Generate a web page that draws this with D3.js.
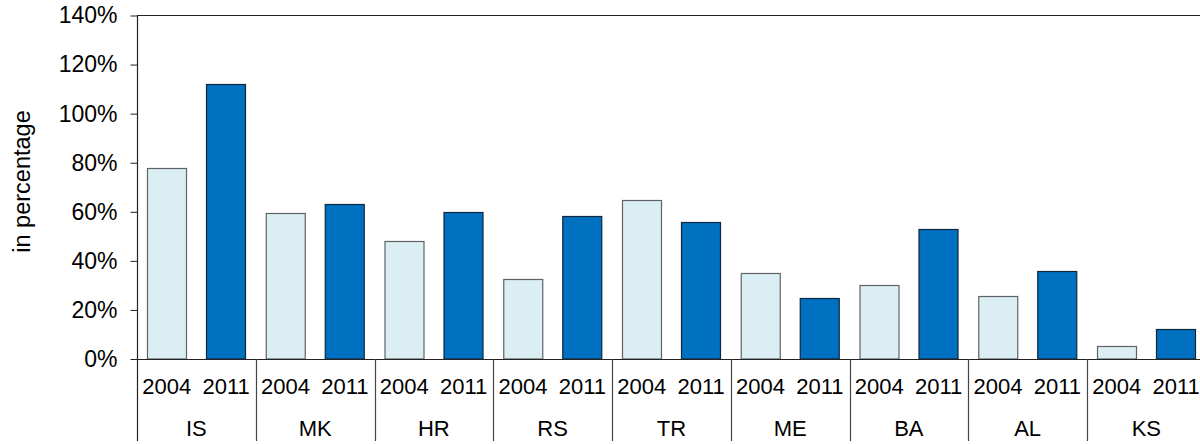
<!DOCTYPE html>
<html>
<head>
<meta charset="utf-8">
<script src="https://cdn.jsdelivr.net/npm/d3@7"></script>
<style>
  html, body { margin: 0; padding: 0; background: #fff; }
  svg { display: block; font-family: "Liberation Sans", Arial, sans-serif; }
</style>
</head>
<body>
<svg id="chart" width="1200" height="444"></svg>
<script>
// Country codes along the x axis
const countries = ["IS", "MK", "HR", "RS", "TR", "ME", "BA", "AL", "KS"];
// Survey years shown for each country
const years = ["2004", "2011"];
// Values in percent, one per country
const values2004 = [77.7, 59.4, 48.1, 32.6, 64.7, 35.2, 30.2, 25.7, 5.2];
const values2011 = [112.2, 63.3, 60.0, 58.3, 55.7, 24.9, 52.8, 36.0, 12.4];
// Y axis ticks (percent)
const yTicks = [0, 20, 40, 60, 80, 100, 120, 140];
const yTitle = "in percentage";

const svg = d3.select("#chart");

const plotLeft = 137, groupW = 118.75;
const plotTop = 15.5, base = 359, rowBottom = 441;
const plotRight = plotLeft + groupW * countries.length;

const y = d3.scaleLinear().domain([0, 140]).range([base, plotTop]);
const x0 = d3.scaleBand().domain(countries).range([plotLeft, plotRight]).padding(0);
const x1 = d3.scaleBand().domain(years).range([0, groupW])
  .paddingInner(20 / 59.375).paddingOuter(10 / 59.375);

const fills = { "2004": "#DBEEF4", "2011": "#0070C0" };
const strokes = { "2004": "#5f6366", "2011": "#10263d" };

// top border of the plot area
svg.append("line")
  .attr("x1", plotLeft).attr("x2", plotRight)
  .attr("y1", plotTop).attr("y2", plotTop)
  .attr("stroke", "#222").attr("stroke-width", 1.2);

// bars
const groups = svg.append("g").selectAll("g")
  .data(countries.map((c, i) => ({ c, vals: [
    { year: "2004", v: values2004[i] },
    { year: "2011", v: values2011[i] }
  ]})))
  .join("g")
  .attr("transform", d => `translate(${x0(d.c)},0)`);

groups.selectAll("rect")
  .data(d => d.vals)
  .join("rect")
  .attr("x", d => Math.round(x1(d.year)) + 0.5)
  .attr("width", Math.round(x1.bandwidth()))
  .attr("y", d => Math.round(y(d.v)) + 0.5)
  .attr("height", d => base - Math.round(y(d.v)) - 0.5)
  .attr("fill", d => fills[d.year])
  .attr("stroke", d => strokes[d.year])
  .attr("stroke-width", 1.2);

// y axis
const yAxis = d3.axisLeft(y)
  .tickValues(yTicks)
  .tickFormat(d => d + "%")
  .tickSize(7)
  .tickPadding(13);

const gy = svg.append("g")
  .attr("transform", `translate(${plotLeft + 0.5},0)`)
  .call(yAxis);
gy.select(".domain").remove();
gy.selectAll(".tick line").attr("stroke", "#222");
gy.selectAll(".tick text")
  .attr("font-size", 23)
  .attr("fill", "#000")
  .attr("font-family", "Liberation Sans, Arial, sans-serif");

// left axis line extends down through the category rows
svg.append("line")
  .attr("x1", plotLeft + 0.5).attr("x2", plotLeft + 0.5)
  .attr("y1", plotTop).attr("y2", rowBottom)
  .attr("stroke", "#222").attr("stroke-width", 1.2);

// baseline
svg.append("line")
  .attr("x1", plotLeft).attr("x2", plotRight)
  .attr("y1", base + 0.5).attr("y2", base + 0.5)
  .attr("stroke", "#222").attr("stroke-width", 1.2);

// category separators below the baseline
svg.append("g").selectAll("line")
  .data(countries.slice(1))
  .join("line")
  .attr("x1", d => Math.round(x0(d)) + 0.5)
  .attr("x2", d => Math.round(x0(d)) + 0.5)
  .attr("y1", base).attr("y2", rowBottom)
  .attr("stroke", "#444").attr("stroke-width", 1.2);

// year labels
groups.selectAll("text.year")
  .data(d => d.vals)
  .join("text")
  .attr("class", "year")
  .attr("x", d => x1(d.year) + x1.bandwidth() / 2)
  .attr("y", 394)
  .attr("text-anchor", "middle")
  .attr("font-size", 22)
  .attr("fill", "#000")
  .text(d => d.year);

// country labels
groups.append("text")
  .attr("x", groupW / 2)
  .attr("y", 436)
  .attr("text-anchor", "middle")
  .attr("font-size", 22)
  .attr("fill", "#000")
  .text(d => d.c);

// y axis title
svg.append("text")
  .attr("transform", `translate(30,181.5) rotate(-90)`)
  .attr("text-anchor", "middle")
  .attr("font-size", 23.5)
  .attr("fill", "#000")
  .text(yTitle);
</script>
</body>
</html>
